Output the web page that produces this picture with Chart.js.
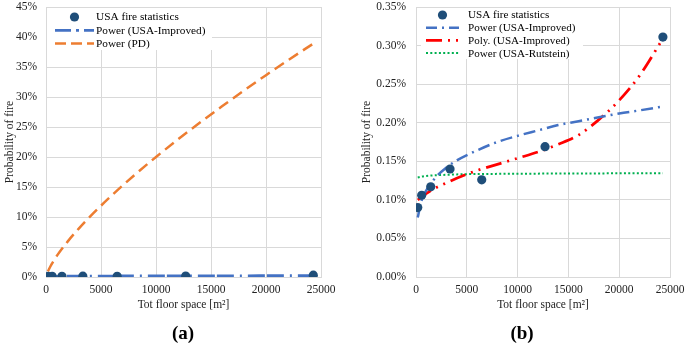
<!DOCTYPE html>
<html lang="en">
<head>
<meta charset="UTF-8">
<title>Probability of fire vs. total floor space</title>
<script src="https://cdn.jsdelivr.net/npm/chart.js@4"></script>
<style>
  body {
    margin: 0;
    background: #fff;
    width: 685px;
    height: 345px;
    position: relative;
    overflow: hidden;
    font-family: "Liberation Serif", "Times New Roman", serif;
  }
  canvas { position: absolute; top: 0; }
  #chartA { left: 0; }
  #chartB { left: 357px; }
  .tag {
    position: absolute;
    top: 321px;
    width: 60px;
    text-align: center;
    font-weight: bold;
    font-size: 19px;
    line-height: 24px;
    color: #000;
  }
</style>
</head>
<body>

<canvas id="chartA" width="342" height="345"></canvas>
<canvas id="chartB" width="328" height="345"></canvas>
<div class="tag" style="left:153px">(a)</div>
<div class="tag" style="left:492px">(b)</div>

<script>
// USA fire statistics (probability in %)
const statFloor = [170, 560, 1450, 3350, 6470, 12700, 24300];
const statProb  = [0.090, 0.106, 0.117, 0.140, 0.126, 0.169, 0.311];

// trend lines at these floor areas
const trendFloor   = [170, 500, 1000, 2000, 3000, 4000, 6000, 8000, 10000, 12000, 14000, 16000, 18000, 20000, 22000, 24300];
const powImproved  = [0.077, 0.097, 0.112, 0.130, 0.142, 0.151, 0.164, 0.175, 0.183, 0.190, 0.197, 0.202, 0.207, 0.212, 0.216, 0.221];
const polyImproved = [0.100, 0.103, 0.108, 0.116, 0.122, 0.128, 0.138, 0.146, 0.154, 0.162, 0.172, 0.184, 0.204, 0.229, 0.261, 0.309];
const powRutstein  = [0.129, 0.130, 0.131, 0.132, 0.1325, 0.133, 0.1335, 0.1337, 0.1339, 0.134, 0.1341, 0.1342, 0.1343, 0.1344, 0.1345, 0.1346];
const powPD        = [0.94, 2.11, 3.56, 5.98, 8.11, 10.06, 13.63, 16.92, 20.0, 22.93, 25.74, 28.45, 31.08, 33.64, 36.12, 38.9];

const xTicks  = [0, 5000, 10000, 15000, 20000, 25000];
const yTicksA = [0, 5, 10, 15, 20, 25, 30, 35, 40, 45];
const yTicksB = [0, 0.05, 0.10, 0.15, 0.20, 0.25, 0.30, 0.35];

const serif = "'Liberation Serif', 'Times New Roman', serif";
const gridColor = '#d9d9d9';
const textColor = '#222';

function pts(xs, ys) {
    return xs.map((x, i) => ({ x: x, y: ys[i] }));
}

// legend drawn inside the plot, top-left, on a white box
const insideLegend = {
    id: 'insideLegend',
    afterDraw(chart, args, o) {
        const ctx = chart.ctx;
        const area = chart.chartArea;
        const x0 = area.left + o.boxLeft;
        const y0 = area.top + 1;
        ctx.save();
        ctx.fillStyle = '#fff';
        ctx.fillRect(x0, y0, o.boxWidth, o.boxHeight);
        ctx.font = o.fontSize + 'px ' + serif;
        ctx.textBaseline = 'middle';
        ctx.textAlign = 'left';
        chart.data.datasets.forEach((ds, i) => {
            const y = area.top + o.firstRow + i * o.rowHeight;
            const sx = area.left + o.sampleLeft;
            const ex = sx + o.sampleLength;
            if (ds.showLine === false) {
                ctx.beginPath();
                ctx.fillStyle = ds.backgroundColor;
                ctx.arc((sx + ex) / 2, y, ds.pointRadius, 0, Math.PI * 2);
                ctx.fill();
            } else {
                ctx.beginPath();
                ctx.strokeStyle = ds.borderColor;
                ctx.lineWidth = ds.borderWidth;
                ctx.setLineDash(ds.legendDash || ds.borderDash || []);
                ctx.moveTo(sx, y);
                ctx.lineTo(ex, y);
                ctx.stroke();
                ctx.setLineDash([]);
            }
            ctx.fillStyle = '#000';
            ctx.fillText(ds.label, area.left + o.textLeft, y + 0.5);
        });
        ctx.restore();
    }
};

function axisFont() {
    return { family: serif, size: 11.5 };
}

function xScale() {
    return {
        type: 'linear',
        min: 0,
        max: 25000,
        afterBuildTicks: s => { s.ticks = xTicks.map(v => ({ value: v })); },
        afterFit: s => { s.height = 68; s.paddingLeft = 0; s.paddingRight = 0; },
        ticks: { callback: v => String(v), font: axisFont(), color: textColor, padding: 6, maxRotation: 0 },
        grid: { color: gridColor, drawTicks: false },
        border: { color: gridColor },
        title: { display: true, text: 'Tot floor space [m²]', font: axisFont(), color: textColor, padding: { top: 0, bottom: 33 } }
    };
}

function yScale(maxV, ticks, fmt, width, pad) {
    return {
        min: 0,
        max: maxV,
        afterBuildTicks: s => { s.ticks = ticks.map(v => ({ value: v })); },
        afterFit: s => { s.width = width; s.paddingTop = 7; s.paddingBottom = 0; },
        ticks: { callback: fmt, font: axisFont(), color: textColor, padding: pad },
        grid: { color: gridColor, drawTicks: false },
        border: { color: gridColor },
        title: { display: true, text: 'Probability of fire', font: axisFont(), color: textColor, padding: { top: 3, bottom: 0 } }
    };
}

function statSet() {
    return {
        label: 'USA fire statistics',
        data: pts(statFloor, statProb),
        showLine: false,
        pointRadius: 4.6,
        pointHoverRadius: 4.6,
        backgroundColor: '#1f4e79',
        borderColor: '#1f4e79',
        borderWidth: 0
    };
}

function trendSet(label, ys, color, width, dash, legendDash) {
    return {
        label: label,
        data: pts(trendFloor, ys),
        showLine: true,
        pointRadius: 0,
        borderColor: color,
        backgroundColor: color,
        borderWidth: width,
        borderDash: dash,
        legendDash: legendDash,
        cubicInterpolationMode: 'monotone',
        fill: false
    };
}

// (a)
new Chart(document.getElementById('chartA'), {
    type: 'scatter',
    data: {
        datasets: [
            statSet(),
            trendSet('Power (USA-Improved)', powImproved, '#4472c4', 2.75, [17, 2, 17, 6, 2, 6], [16, 5, 3, 5]),
            trendSet('Power (PD)', powPD, '#ed7d31', 2.5, [11, 6], [11, 5])
        ]
    },
    options: {
        responsive: false,
        animation: false,
        events: [],
        layout: { padding: { left: 0, right: 21, top: 0, bottom: 0 } },
        plugins: {
            legend: { display: false },
            tooltip: { enabled: false },
            insideLegend: { boxLeft: 1, boxWidth: 165, boxHeight: 42, firstRow: 10, rowHeight: 13.3, sampleLeft: 9, sampleLength: 39, textLeft: 50, fontSize: 11.3 }
        },
        scales: {
            x: xScale(),
            y: yScale(45, yTicksA, v => v + '%', 46, 9)
        }
    },
    plugins: [insideLegend]
});

// (b)
new Chart(document.getElementById('chartB'), {
    type: 'scatter',
    data: {
        datasets: [
            statSet(),
            trendSet('Power (USA-Improved)', powImproved, '#4472c4', 2.5, [12, 5, 2, 5], [11, 5, 2, 5]),
            trendSet('Poly. (USA-Improved)', polyImproved, '#ff0000', 2.75, [16, 6, 2, 6, 2, 6], [16, 6, 2, 6, 2, 6]),
            trendSet('Power (USA-Rutstein)', powRutstein, '#00b050', 2, [2, 2.3], [2, 2.3])
        ]
    },
    options: {
        responsive: false,
        animation: false,
        events: [],
        layout: { padding: { left: 0, right: 15, top: 0, bottom: 0 } },
        plugins: {
            legend: { display: false },
            tooltip: { enabled: false },
            insideLegend: { boxLeft: 5, boxWidth: 162, boxHeight: 51, firstRow: 8, rowHeight: 12.7, sampleLeft: 10, sampleLength: 33, textLeft: 52, fontSize: 11.1 }
        },
        scales: {
            x: xScale(),
            y: yScale(0.35, yTicksB, v => v.toFixed(2) + '%', 59, 10)
        }
    },
    plugins: [insideLegend]
});
</script>
</body>
</html>
